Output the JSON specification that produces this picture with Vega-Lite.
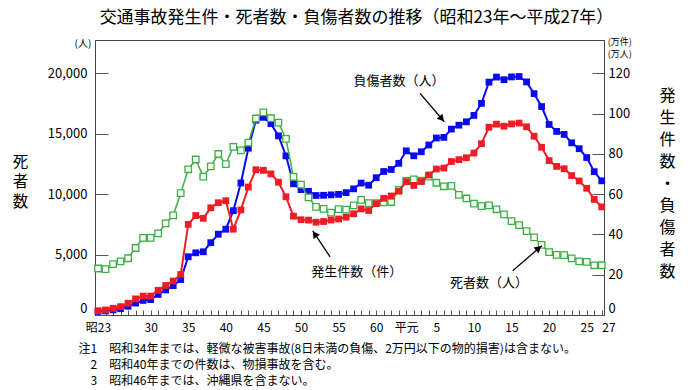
{
  "$schema": "https://vega.github.io/schema/vega-lite/v6.json",
  "width": 509,
  "height": 275,
  "autosize": {"type": "none"},
  "padding": {"left": 95, "top": 40, "right": 96, "bottom": 75},
  "background": "white",
  "title": {
    "text": "交通事故発生件・死者数・負傷者数の推移（昭和23年～平成27年）",
    "fontSize": 17,
    "fontWeight": "normal",
    "font": "Noto Sans CJK JP",
    "anchor": "middle",
    "dx": 7,
    "offset": 11,
    "color": "#000"
  },
  "config": {
    "font": "Noto Sans CJK JP",
    "view": {"stroke": "#444", "strokeWidth": 1},
    "axis": {"domainColor": "#444", "tickColor": "#555", "labelColor": "#000", "titleColor": "#000", "grid": false}
  },
  "data": {
    "values": [
      {"year": 1948, "deaths": 3848, "accidents": 2.13, "injured": 1.76},
      {"year": 1949, "deaths": 3790, "accidents": 2.51, "injured": 2.02},
      {"year": 1950, "deaths": 4202, "accidents": 3.32, "injured": 2.55},
      {"year": 1951, "deaths": 4429, "accidents": 4.14, "injured": 3.13},
      {"year": 1952, "deaths": 4696, "accidents": 5.85, "injured": 4.33},
      {"year": 1953, "deaths": 5544, "accidents": 8.00, "injured": 5.93},
      {"year": 1954, "deaths": 6374, "accidents": 9.39, "injured": 7.24},
      {"year": 1955, "deaths": 6379, "accidents": 9.40, "injured": 7.65},
      {"year": 1956, "deaths": 6751, "accidents": 12.27, "injured": 10.21},
      {"year": 1957, "deaths": 7575, "accidents": 14.68, "injured": 12.45},
      {"year": 1958, "deaths": 8248, "accidents": 16.88, "injured": 14.54},
      {"year": 1959, "deaths": 10079, "accidents": 20.13, "injured": 17.60},
      {"year": 1960, "deaths": 12055, "accidents": 44.99, "injured": 28.92},
      {"year": 1961, "deaths": 12865, "accidents": 49.37, "injured": 30.87},
      {"year": 1962, "deaths": 11445, "accidents": 47.98, "injured": 31.38},
      {"year": 1963, "deaths": 12301, "accidents": 53.20, "injured": 35.91},
      {"year": 1964, "deaths": 13318, "accidents": 55.72, "injured": 40.11},
      {"year": 1965, "deaths": 12484, "accidents": 56.73, "injured": 42.57},
      {"year": 1966, "deaths": 13904, "accidents": 42.59, "injured": 51.78},
      {"year": 1967, "deaths": 13618, "accidents": 52.15, "injured": 65.54},
      {"year": 1968, "deaths": 14256, "accidents": 63.51, "injured": 82.81},
      {"year": 1969, "deaths": 16257, "accidents": 72.09, "injured": 96.70},
      {"year": 1970, "deaths": 16765, "accidents": 71.81, "injured": 98.11},
      {"year": 1971, "deaths": 16278, "accidents": 70.03, "injured": 94.97},
      {"year": 1972, "deaths": 15918, "accidents": 65.93, "injured": 88.92},
      {"year": 1973, "deaths": 14574, "accidents": 58.67, "injured": 78.99},
      {"year": 1974, "deaths": 11432, "accidents": 49.05, "injured": 65.14},
      {"year": 1975, "deaths": 10792, "accidents": 47.29, "injured": 62.25},
      {"year": 1976, "deaths": 9734, "accidents": 47.10, "injured": 61.40},
      {"year": 1977, "deaths": 8945, "accidents": 46.06, "injured": 59.32},
      {"year": 1978, "deaths": 8783, "accidents": 46.40, "injured": 59.41},
      {"year": 1979, "deaths": 8466, "accidents": 47.16, "injured": 59.63},
      {"year": 1980, "deaths": 8760, "accidents": 47.67, "injured": 59.87},
      {"year": 1981, "deaths": 8719, "accidents": 48.56, "injured": 60.73},
      {"year": 1982, "deaths": 9073, "accidents": 50.23, "injured": 62.62},
      {"year": 1983, "deaths": 9520, "accidents": 52.64, "injured": 65.48},
      {"year": 1984, "deaths": 9262, "accidents": 51.86, "injured": 64.43},
      {"year": 1985, "deaths": 9261, "accidents": 55.28, "injured": 68.13},
      {"year": 1986, "deaths": 9317, "accidents": 57.92, "injured": 71.23},
      {"year": 1987, "deaths": 9347, "accidents": 59.07, "injured": 72.22},
      {"year": 1988, "deaths": 10344, "accidents": 61.45, "injured": 75.28},
      {"year": 1989, "deaths": 11086, "accidents": 66.14, "injured": 81.48},
      {"year": 1990, "deaths": 11227, "accidents": 64.31, "injured": 79.03},
      {"year": 1991, "deaths": 11109, "accidents": 66.24, "injured": 81.02},
      {"year": 1992, "deaths": 11451, "accidents": 69.53, "injured": 84.40},
      {"year": 1993, "deaths": 10942, "accidents": 72.47, "injured": 87.86},
      {"year": 1994, "deaths": 10649, "accidents": 72.95, "injured": 88.17},
      {"year": 1995, "deaths": 10684, "accidents": 76.18, "injured": 92.27},
      {"year": 1996, "deaths": 9942, "accidents": 77.11, "injured": 94.22},
      {"year": 1997, "deaths": 9640, "accidents": 78.04, "injured": 95.89},
      {"year": 1998, "deaths": 9211, "accidents": 80.39, "injured": 99.07},
      {"year": 1999, "deaths": 9006, "accidents": 85.04, "injured": 105.04},
      {"year": 2000, "deaths": 9066, "accidents": 93.20, "injured": 115.57},
      {"year": 2001, "deaths": 8747, "accidents": 94.73, "injured": 118.10},
      {"year": 2002, "deaths": 8326, "accidents": 93.70, "injured": 116.80},
      {"year": 2003, "deaths": 7768, "accidents": 94.83, "injured": 118.17},
      {"year": 2004, "deaths": 7436, "accidents": 95.27, "injured": 118.36},
      {"year": 2005, "deaths": 6937, "accidents": 93.43, "injured": 115.71},
      {"year": 2006, "deaths": 6415, "accidents": 88.73, "injured": 109.86},
      {"year": 2007, "deaths": 5796, "accidents": 83.27, "injured": 103.47},
      {"year": 2008, "deaths": 5209, "accidents": 76.64, "injured": 94.57},
      {"year": 2009, "deaths": 4979, "accidents": 73.76, "injured": 91.12},
      {"year": 2010, "deaths": 4948, "accidents": 72.59, "injured": 89.63},
      {"year": 2011, "deaths": 4691, "accidents": 69.21, "injured": 85.46},
      {"year": 2012, "deaths": 4438, "accidents": 66.52, "injured": 82.54},
      {"year": 2013, "deaths": 4388, "accidents": 62.90, "injured": 78.15},
      {"year": 2014, "deaths": 4113, "accidents": 57.38, "injured": 71.14},
      {"year": 2015, "deaths": 4117, "accidents": 53.69, "injured": 66.60}
    ]
  },
  "encoding": {
    "x": {
      "field": "year",
      "type": "quantitative",
      "scale": {"domain": [1947.6, 2015.3], "nice": false, "zero": false},
      "axis": {
        "values": [1948,1949,1950,1951,1952,1953,1954,1955,1956,1957,1958,1959,1960,1961,1962,1963,1964,1965,1966,1967,1968,1969,1970,1971,1972,1973,1974,1975,1976,1977,1978,1979,1980,1981,1982,1983,1984,1985,1986,1987,1988,1989,1990,1991,1992,1993,1994,1995,1996,1997,1998,1999,2000,2001,2002,2003,2004,2005,2006,2007,2008,2009,2010,2011,2012,2013,2014,2015],
        "labelExpr": "datum.value == 1948 ? '昭23' : datum.value == 1989 ? '平元' : (datum.value >= 1955 && datum.value < 1989 && (datum.value - 1925) % 5 == 0) ? '' + (datum.value - 1925) : (datum.value > 1989 && ((datum.value - 1988) % 5 == 0 || datum.value == 2015)) ? '' + (datum.value - 1988) : ''",
        "labelAlign": {"condition": {"test": "datum.value == 2015", "value": "left"}, "value": "center"},
        "tickSize": -5,
        "labelPadding": 12,
        "labelFontSize": 12,
        "labelOverlap": false,
        "labelFlush": false,
        "labelBound": false,
        "title": ["注1　昭和34年までは、軽微な被害事故(8日未満の負傷、2万円以下の物的損害)は含まない。", "\u200b　2　昭和40年までの件数は、物損事故を含む。", "\u200b　3　昭和46年までは、沖縄県を含まない。"],
        "titleX": -17,
        "titleY": 28,
        "titleAnchor": "start",
        "titleAlign": "left",
        "titleBaseline": "top",
        "titleFontSize": 12,
        "titleFontWeight": "normal",
        "titleLineHeight": 16
      }
    }
  },
  "layer": [
    {
      "mark": {"type": "line", "color": "#0a0af0", "strokeWidth": 2, "point": {"shape": "square", "filled": true, "color": "#0a0af0", "size": 46, "opacity": 1}},
      "encoding": {
        "y": {
          "field": "injured",
          "type": "quantitative",
          "scale": {"domain": [0, 136.5], "nice": false},
          "axis": {
            "orient": "right",
            "values": [0, 20, 40, 60, 80, 100, 120],
            "tickSize": -12,
            "labelPadding": 16,
            "labelFontSize": 13,
            "labelFlush": true,
            "title": ["発", "生", "件", "数", "・", "負", "傷", "者", "数"],
            "titleAngle": 0,
            "titleX": 63,
            "titleY": 55,
            "titleAlign": "center",
            "titleBaseline": "middle",
            "titleFontSize": 16,
            "titleFontWeight": "normal",
            "titleLineHeight": 22
          }
        }
      }
    },
    {
      "layer": [
        {
          "mark": {"type": "line", "color": "#3cb043", "strokeWidth": 1.5, "point": {"shape": "square", "filled": true, "fill": "white", "stroke": "#3cb043", "strokeWidth": 1.3, "size": 42, "opacity": 1}},
          "encoding": {
            "y": {
              "field": "deaths",
              "type": "quantitative",
              "scale": {"domain": [0, 22750], "nice": false},
              "axis": {
                "orient": "left",
                "values": [0, 5000, 10000, 15000, 20000],
                "format": ",.0f",
                "labelExpr": "format(datum.value, ',.0f')",
                "tickSize": -13,
                "labelPadding": 21,
                "labelFontSize": 13,
                "labelFlush": true,
                "title": ["死", "者", "数"],
                "titleAngle": 0,
                "titleX": -75,
                "titleY": 121,
                "titleAlign": "center",
                "titleBaseline": "middle",
                "titleFontSize": 15.5,
                "titleFontWeight": "normal",
                "titleLineHeight": 20
              }
            }
          }
        },
        {
          "data": {"values": [{"unit": "(人)", "year": 1946.0, "deaths": 22419}]},
          "mark": {"type": "text", "fontSize": 10, "align": "center", "baseline": "middle", "color": "#000"},
          "encoding": {
            "y": {"field": "deaths", "type": "quantitative"},
            "text": {"field": "unit"}
          }
        }
      ]
    },
    {
      "layer": [
        {
          "mark": {"type": "line", "color": "#ee1c25", "strokeWidth": 2, "point": {"shape": "square", "filled": true, "color": "#ee1c25", "size": 46, "opacity": 1}},
          "encoding": {
            "y": {"field": "accidents", "type": "quantitative", "scale": {"domain": [0, 136.5], "nice": false}, "axis": null}
          }
        },
        {
          "data": {"values": [
            {"label": "負傷者数（人）", "year": 1988.04, "value": 116.3},
            {"label": "発生件数（件）", "year": 1982.41, "value": 21.5},
            {"label": "死者数（人）", "year": 2000.0, "value": 16.0}
          ]},
          "mark": {"type": "text", "fontSize": 13, "align": "center", "baseline": "middle", "color": "#000"},
          "encoding": {
            "y": {"field": "value", "type": "quantitative"},
            "text": {"field": "label"}
          }
        },
        {
          "data": {"values": [
            {"year": 1990.83, "value": 110.0, "year2": 1994.06, "value2": 95.9},
            {"year": 1978.86, "value": 28.9, "year2": 1976.56, "value2": 41.8},
            {"year": 2003.16, "value": 22.0, "year2": 2007.02, "value2": 34.4}
          ]},
          "mark": {"type": "rule", "color": "#000", "strokeWidth": 1.3},
          "encoding": {
            "y": {"field": "value", "type": "quantitative"},
            "x2": {"field": "year2"},
            "y2": {"field": "value2"}
          }
        },
        {
          "data": {"values": [{"year": 1993.72, "value": 97.4}]},
          "mark": {"type": "point", "shape": "triangle-up", "filled": true, "color": "#000", "size": 60, "opacity": 1, "angle": 139.5},
          "encoding": {"y": {"field": "value", "type": "quantitative"}}
        },
        {
          "data": {"values": [{"year": 1976.84, "value": 40.2}]},
          "mark": {"type": "point", "shape": "triangle-up", "filled": true, "color": "#000", "size": 60, "opacity": 1, "angle": 326.4},
          "encoding": {"y": {"field": "value", "type": "quantitative"}}
        },
        {
          "data": {"values": [{"year": 2006.61, "value": 33.1}]},
          "mark": {"type": "point", "shape": "triangle-up", "filled": true, "color": "#000", "size": 60, "opacity": 1, "angle": 49.2},
          "encoding": {"y": {"field": "value", "type": "quantitative"}}
        },
        {
          "data": {"values": [{"unit": "(万件)", "year": 2015.8, "value": 135.4}, {"unit": "(万人)", "year": 2015.8, "value": 129.6}]},
          "mark": {"type": "text", "fontSize": 9, "align": "left", "baseline": "middle", "color": "#000"},
          "encoding": {
            "y": {"field": "value", "type": "quantitative"},
            "text": {"field": "unit"}
          }
        }
      ]
    }
  ],
  "resolve": {"scale": {"y": "independent"}}
}
